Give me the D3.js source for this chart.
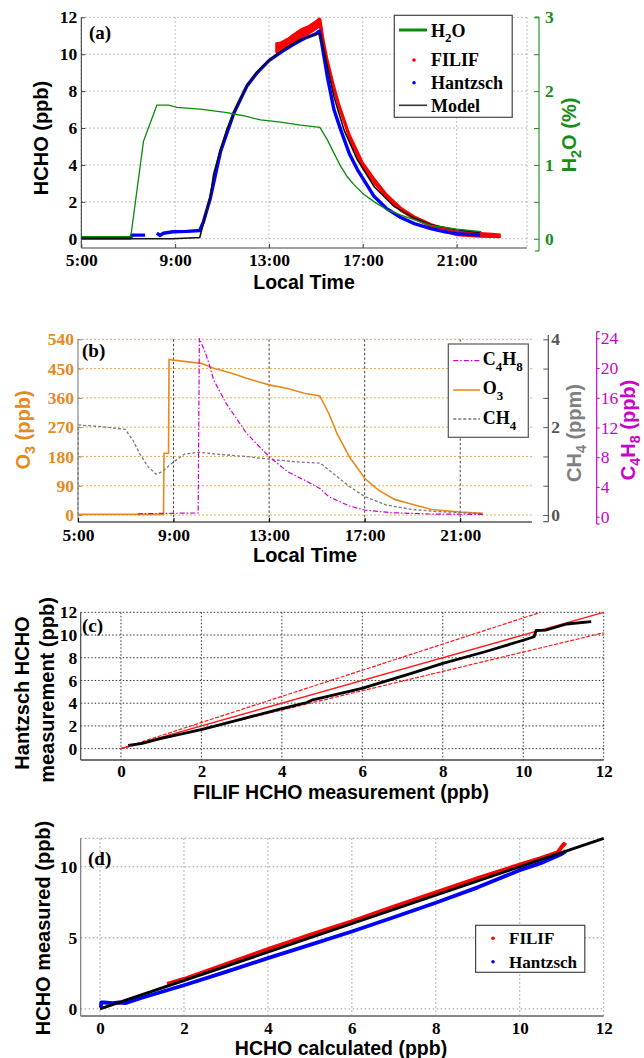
<!DOCTYPE html>
<html><head><meta charset="utf-8">
<script src="https://cdn.jsdelivr.net/npm/d3@7/dist/d3.min.js"></script>
<style>body{margin:0;background:#fff}svg{display:block}</style>
</head><body>
<svg id="c" width="644" height="1058"></svg>
<script>
// ---------------- DATA ----------------
const timeTicks = [5, 9, 13, 17, 21];
const timeTickLabels = ["5:00", "9:00", "13:00", "17:00", "21:00"];
const hchoTicks = [0, 2, 4, 6, 8, 10, 12];
const h2oTicks = [0, 0.5, 1, 1.5, 2, 2.5, 3];
const o3Ticks = [0, 90, 180, 270, 360, 450, 540];
const ch4Labels = [0, 2, 4];
const c4h8Ticks = [0, 4, 8, 12, 16, 20, 24];
const scatTicks = [0, 2, 4, 6, 8, 10, 12];
const dYTicks = [0, 5, 10];

// panel (a): HCHO time series (hour, ppb)
const h2oTime = [5.0, 7.11, 7.65, 8.22, 8.72, 9.08, 10.07, 11.21, 11.5, 12.0, 12.64, 13.5, 14.35, 15.17, 15.49, 15.77, 16.06, 16.34, 16.63, 17.05, 17.49, 18.05, 18.62, 19.19, 19.9, 21.0, 22.05];
const h2oVal  = [0.03, 0.03, 1.32, 1.81, 1.81, 1.78, 1.755, 1.71, 1.69, 1.66, 1.61, 1.58, 1.54, 1.51, 1.34, 1.16, 0.98, 0.84, 0.73, 0.60, 0.50, 0.39, 0.32, 0.26, 0.18, 0.13, 0.095];

const modelTime = [5.0, 8.9, 10.05, 10.21, 10.5, 10.64, 10.93, 11.2, 11.5, 11.78, 12.07, 12.5, 13.02, 13.5, 14.0, 14.35, 14.8, 15.15, 15.2, 15.49, 15.77, 16.2, 16.77, 17.48, 18.33, 19.19, 19.9, 21.0, 22.0];
const modelVal  = [0.0, 0.0, 0.07, 0.85, 2.3, 3.5, 4.82, 5.9, 6.85, 7.6, 8.3, 9.05, 9.69, 10.15, 10.55, 10.8, 11.0, 11.12, 11.05, 9.33, 7.7, 5.9, 4.28, 2.83, 1.75, 1.12, 0.76, 0.49, 0.34];

const hantzschTime = [5.0, 7.1, 7.15, 7.72, 7.9, 8.22, 8.35, 8.5, 8.9, 9.5, 10.05, 10.2, 10.5, 10.93, 11.5, 12.07, 12.5, 13.0, 13.5, 14.0, 14.5, 15.0, 15.15, 15.25, 15.5, 15.77, 16.06, 16.43, 16.77, 17.48, 18.0, 18.62, 19.2, 19.9, 20.5, 21.0, 22.0];
const hantzschVal  = [0.05, 0.05, 0.2, 0.2, null, 0.3, 0.18, 0.3, 0.38, 0.4, 0.45, 0.9, 2.2, 4.7, 6.8, 8.3, 9.0, 9.65, 10.1, 10.5, 10.85, 11.1, 11.25, 10.6, 8.7, 7.0, 5.9, 4.6, 3.75, 2.3, 1.65, 1.15, 0.82, 0.55, 0.38, 0.28, 0.2];

const filifTime = [13.3, 13.5, 13.8, 14.0, 14.35, 14.7, 15.0, 15.15, 15.2, 15.35, 15.5, 15.77, 16.0, 16.43, 17.0, 17.48, 18.0, 18.62, 19.2, 19.9, 20.5, 21.0, 21.5, 22.0, 22.5, 22.85];
const filifLo   = [10.1, 10.1, 10.45, 10.6, 10.9, 11.1, 11.35, 11.5, 11.3, 10.3, 9.4, 8.0, 7.0, 5.4, 3.85, 3.0, 2.25, 1.5, 1.05, 0.65, 0.38, 0.18, 0.14, 0.1, 0.08, 0.07];
const filifHi   = [10.6, 10.65, 10.85, 11.05, 11.35, 11.55, 11.8, 11.95, 11.9, 10.7, 9.75, 8.35, 7.3, 5.7, 4.15, 3.3, 2.45, 1.7, 1.22, 0.82, 0.55, 0.4, 0.36, 0.32, 0.28, 0.24];

// panel (b): O3 (ppb), CH4 (ppm), C4H8 (ppb)
const o3Time = [5.0, 8.58, 8.6, 8.79, 8.81, 9.0, 10.16, 10.68, 11.37, 12.06, 13.0, 13.78, 14.47, 15.12, 15.5, 15.84, 16.36, 17.0, 17.56, 18.25, 18.94, 19.8, 21.0, 21.95];
const o3Val  = [2, 2, 190, 190, 478, 476, 466, 451, 437, 420, 400, 389, 374, 366, 312, 251, 179, 113, 77, 48, 34, 17, 9, 5];

const ch4Time = [5.0, 5.01, 6.03, 6.98, 7.3, 7.58, 7.93, 8.27, 8.53, 9.0, 9.47, 10.08, 10.68, 12.06, 13.0, 14.12, 15.15, 15.67, 16.36, 17.0, 17.9, 18.94, 19.97, 21.95];
const ch4Val  = [0, 2.05, 2.01, 1.95, 1.7, 1.40, 1.10, 0.93, 0.99, 1.21, 1.39, 1.43, 1.39, 1.33, 1.27, 1.21, 1.18, 0.95, 0.65, 0.42, 0.23, 0.13, 0.08, 0.03];

const c4h8Time = [7.5, 10.03, 10.08, 10.34, 10.5, 10.68, 11.2, 12.06, 13.0, 13.78, 14.47, 15.12, 15.5, 16.36, 17.0, 18.08, 19.8, 21.95];
const c4h8Val  = [0.4, 0.5, 24, 22, 20.4, 18.4, 15.25, 11.2, 8.07, 6.06, 4.93, 3.81, 2.69, 1.44, 0.9, 0.54, 0.36, 0.31];

// panel (c): Hantzsch vs FILIF
const cFilif    = [0.18, 0.5, 1.0, 2.02, 3.0, 4.0, 4.62, 4.77, 5.99, 7.22, 8.0, 9.05, 10.02, 10.27, 10.32, 10.57, 11.08, 11.69];
const cHantzsch = [0.29, 0.45, 0.9, 1.7, 2.6, 3.53, 4.06, 4.3, 5.3, 6.62, 7.5, 8.53, 9.56, 9.85, 10.4, 10.44, 10.97, 11.18];
const refEndX = [12, 10.43, 12];
const refEndY = [12, 12, 10.2];

// panel (d): measured vs calculated
const dCalcF = [1.6, 2.0, 3.0, 4.0, 4.5, 5.0, 6.0, 7.0, 8.0, 9.0, 10.0, 10.5, 10.9, 11.05, 11.1];
const dMeasF = [1.75, 2.1, 3.15, 4.2, 4.7, 5.2, 6.15, 7.2, 8.2, 9.2, 10.15, 10.6, 11.0, 11.6, 11.5];
const dCalcH = [0.02, 0.03, 0.1, 0.3, 0.45, 0.6, 1.0, 2.0, 3.0, 4.0, 5.0, 6.0, 7.0, 8.0, 9.0, 10.0, 10.5, 11.0, 11.1];
const dMeasH = [0.1, 0.45, 0.45, 0.4, 0.45, 0.4, 0.78, 1.66, 2.6, 3.57, 4.5, 5.44, 6.45, 7.47, 8.55, 9.76, 10.25, 10.9, 11.1];
const oneToOneX = [0, 12];
const oneToOneY = [0, 12];

// ---------------- DRAWING ----------------
const svg = d3.select("#c");
const SERIF = "'Liberation Serif','Times New Roman',serif";
const SANS = "'Liberation Sans',Arial,sans-serif";
const zip = (a, b) => a.map((v, i) => [v, b[i]]);

function rich(sel, parts, shift) {
  let off = 0;
  parts.forEach(p => {
    const sub = Array.isArray(p);
    const s = sub ? p[0] : p;
    const t = sel.append("tspan").text(s);
    const target = sub ? shift : 0;
    if (target !== off) { t.attr("dy", target - off); off = target; }
    if (sub) t.attr("font-size", "72%");
  });
}
function title(x, y, parts, opts) {
  const t = svg.append("text")
    .attr("text-anchor", "middle")
    .attr("font-family", opts.family || SANS)
    .attr("font-weight", "bold")
    .attr("font-size", opts.size || 20)
    .attr("fill", opts.color || "#000");
  if (opts.rotate) t.attr("transform", `translate(${x},${y}) rotate(-90)`).attr("dy", "0.35em");
  else t.attr("x", x).attr("y", y);
  rich(t, parts, opts.shift || 5);
  return t;
}
function styleAxis(g, color, size, weight) {
  g.select(".domain").remove();
  g.selectAll(".tick line").attr("stroke", color);
  g.selectAll(".tick text").attr("font-family", SERIF).attr("font-weight", weight || "bold")
    .attr("font-size", size || 17).attr("fill", color);
}
function hline(y, x1, x2, stroke, w, dash) {
  svg.append("line").attr("x1", x1).attr("x2", x2).attr("y1", y).attr("y2", y)
    .attr("stroke", stroke).attr("stroke-width", w).attr("stroke-dasharray", dash || null);
}
function vline(x, y1, y2, stroke, w, dash) {
  svg.append("line").attr("x1", x).attr("x2", x).attr("y1", y1).attr("y2", y2)
    .attr("stroke", stroke).attr("stroke-width", w).attr("stroke-dasharray", dash || null);
}
function panelLabel(x, y, s) {
  svg.append("text").attr("x", x).attr("y", y).attr("font-family", SERIF).attr("font-weight", "bold")
    .attr("font-size", 19).text(s);
}

// ======== Panel (a) ========
{
  const L = 81.3, R = 527, T = 17.3, B = 248;
  const x = d3.scaleLinear().domain([5, 24]).range([L, R]);
  const y = d3.scaleLinear().domain([-0.5, 12]).range([B, T]);
  const y2 = d3.scaleLinear().domain([-0.125, 3]).range([B, T]);

  const gridDash = "1.5,2.5";
  timeTicks.concat([24]).forEach(t => vline(x(t), T, B, "#aaa", 1, gridDash));
  hchoTicks.forEach(v => hline(y(v), L, R, "#aaa", 1, gridDash));

  // series
  const area = d3.area().x(d => x(d[0])).y0(d => y(d[1])).y1(d => y(d[2]));
  svg.append("path").datum(filifTime.map((t, i) => [t, filifLo[i], filifHi[i]]))
    .attr("d", area).attr("fill", "#ff0000").attr("stroke", "#ff0000").attr("stroke-width", 1.6)
    .attr("stroke-linejoin", "round");
  const ln = d3.line().defined(d => d[1] != null).x(d => x(d[0])).y(d => y(d[1]));
  svg.append("path").datum(zip(hantzschTime, hantzschVal)).attr("d", ln)
    .attr("fill", "none").attr("stroke", "#0000ff").attr("stroke-width", 3.4).attr("stroke-linejoin", "round");
  svg.append("path").datum(zip(modelTime, modelVal)).attr("d", ln)
    .attr("fill", "none").attr("stroke", "#111").attr("stroke-width", 1.6);
  const ln2 = d3.line().x(d => x(d[0])).y(d => y2(d[1]));
  svg.append("path").datum(zip(h2oTime, h2oVal)).attr("d", ln2)
    .attr("fill", "none").attr("stroke", "#0a8a0a").attr("stroke-width", 1.3);

  // spines
  vline(L, T, B, "#333", 1);
  hline(B, L, R, "#a0a0a0", 2.2);

  const gx = svg.append("g").attr("transform", `translate(0,${B})`)
    .call(d3.axisBottom(x).tickValues(timeTicks).tickSize(-4).tickFormat((d, i) => timeTickLabels[i]));
  styleAxis(gx, "#000", 17.5);
  gx.selectAll(".tick line").attr("stroke", "#444");
  gx.selectAll(".tick text").attr("y", 18.3).attr("dy", null);

  const gy = svg.append("g").attr("transform", `translate(${L},0)`)
    .call(d3.axisLeft(y).tickValues(hchoTicks).tickSize(-4).tickPadding(4));
  styleAxis(gy, "#000", 17.5);
  gy.selectAll(".tick line").attr("stroke", "#444");

  // right H2O axis
  const AX = 539;
  vline(AX, 17, 251, "#2a9a2a", 1.2);
  hline(17, AX - 4, AX, "#2a9a2a", 1.2);
  hline(251, AX - 4, AX, "#2a9a2a", 1.2);
  const gr = svg.append("g").attr("transform", `translate(${AX},0)`)
    .call(d3.axisRight(y2).tickValues(h2oTicks).tickSize(-5).tickPadding(6)
      .tickFormat(d => Number.isInteger(d) ? d : ""));
  styleAxis(gr, "#1a8c1a", 17.5);

  // titles
  title(41, 138, ["HCHO (ppb)"], { rotate: true });
  title(569, 135, ["H", ["2"], "O (%)"], { rotate: true, color: "#1a8c1a" });
  title(304, 288.5, ["Local Time"], { size: 19.5 });
  panelLabel(89, 39, "(a)");

  // legend
  svg.append("rect").attr("x", 394.3).attr("y", 15.3).attr("width", 117.9).attr("height", 102)
    .attr("fill", "#fff").attr("stroke", "#444").attr("stroke-width", 1.2);
  hline(30, 399, 427, "#0a8a0a", 3);
  svg.append("circle").attr("cx", 414).attr("cy", 60).attr("r", 1.8).attr("fill", "#ff0000");
  svg.append("circle").attr("cx", 414).attr("cy", 82.7).attr("r", 1.8).attr("fill", "#0000ff");
  hline(105.3, 399, 427, "#333", 1.6);
  const legA = [[36.5, ["H", ["2"], "O"]], [66, ["FILIF"]], [89, ["Hantzsch"]], [111.5, ["Model"]]];
  legA.forEach(([yy, parts]) => {
    const t = svg.append("text").attr("x", 431).attr("y", yy).attr("font-family", SERIF)
      .attr("font-weight", "bold").attr("font-size", 18);
    rich(t, parts, 5);
  });
}

// ======== Panel (b) ========
{
  const L = 78, R = 531.9, T = 339.3, B = 522;
  const x = d3.scaleLinear().domain([5, 24]).range([L, R]);
  const y = d3.scaleLinear().domain([-21.5, 540]).range([B, T]);
  const yCh4 = d3.scaleLinear().domain([-21.5 * 4 / 540, 4]).range([B, T]);
  const yC4 = d3.scaleLinear().domain([0, 24]).range([516.7, 338.3]);
  const ORANGE = "#e8891c", GRAY = "#7a7a7a", MAG = "#cc00cc";

  o3Ticks.forEach(v => hline(y(v), L, R, "#f2a64a", 1, "2,2"));
  timeTicks.slice(1).forEach(t => vline(x(t), T, B, "#444", 1, "2.5,2"));

  const lnO3 = d3.line().x(d => x(d[0])).y(d => y(d[1]));
  const lnCh4 = d3.line().x(d => x(d[0])).y(d => yCh4(d[1]));
  const lnC4 = d3.line().x(d => x(d[0])).y(d => yC4(d[1]));
  svg.append("path").datum(zip(o3Time, o3Val)).attr("d", lnO3).attr("fill", "none")
    .attr("stroke", ORANGE).attr("stroke-width", 1.6);
  svg.append("path").datum(zip(ch4Time, ch4Val)).attr("d", lnCh4).attr("fill", "none")
    .attr("stroke", GRAY).attr("stroke-width", 1.3).attr("stroke-dasharray", "3,2");
  svg.append("path").datum(zip(c4h8Time, c4h8Val)).attr("d", lnC4).attr("fill", "none")
    .attr("stroke", MAG).attr("stroke-width", 1.2).attr("stroke-dasharray", "5,2,1.5,2");

  vline(L, T, B, "#888", 1.2);
  hline(B, L, R, "#555", 1.5);

  const gx = svg.append("g").attr("transform", `translate(0,${B})`)
    .call(d3.axisBottom(x).tickValues(timeTicks).tickSize(-4).tickFormat((d, i) => timeTickLabels[i]));
  styleAxis(gx, "#000", 17.5);
  gx.selectAll(".tick text").attr("y", 18.5).attr("dy", null);

  const gy = svg.append("g").attr("transform", `translate(${L},0)`)
    .call(d3.axisLeft(y).tickValues(o3Ticks).tickSize(-4).tickPadding(4));
  styleAxis(gy, ORANGE, 17.5);
  gy.selectAll(".tick line").attr("stroke", "#888");

  // CH4 axis
  const AX1 = 548.3;
  vline(AX1, 335, 521.7, "#555", 1.2);
  hline(521.7, AX1 - 5, AX1, "#555", 1.2);
  const g1 = svg.append("g").attr("transform", `translate(${AX1},0)`)
    .call(d3.axisRight(yCh4).tickValues(o3Ticks.map(v => v * 4 / 540)).tickSize(-5).tickPadding(3)
      .tickFormat(d => { const r = Math.round(d * 1000) / 1000; return ch4Labels.includes(r) ? r : ""; }));
  styleAxis(g1, "#555", 17.5);

  // C4H8 axis
  const AX2 = 596.7;
  vline(AX2, 331.7, 524, MAG, 1.2);
  hline(331.7, AX2, AX2 + 3, MAG, 1.2);
  hline(524, AX2, AX2 + 3, MAG, 1.2);
  const g2 = svg.append("g").attr("transform", `translate(${AX2},0)`)
    .call(d3.axisRight(yC4).tickValues(c4h8Ticks).tickSize(3).tickPadding(1));
  styleAxis(g2, MAG, 17.5, "normal");

  title(23, 430, ["O", ["3"], " (ppb)"], { rotate: true, color: ORANGE });
  title(573.5, 433, ["CH", ["4"], " (ppm)"], { rotate: true, color: "#808080" });
  title(628, 430, ["C", ["4"], "H", ["8"], " (ppb)"], { rotate: true, color: MAG });
  title(305, 561.5, ["Local Time"], {});
  panelLabel(82, 357, "(b)");

  svg.append("rect").attr("x", 448.3).attr("y", 344).attr("width", 80).attr("height", 93.3)
    .attr("fill", "#fff").attr("stroke", "#555").attr("stroke-width", 1.2);
  hline(360.7, 453.3, 480, MAG, 1.2, "5,2,1.5,2");
  hline(390, 453.3, 480, ORANGE, 1.6);
  hline(419, 453.3, 480, GRAY, 1.3, "3,2");
  [[365, ["C", ["4"], "H", ["8"]]], [394, ["O", ["3"]]], [424, ["CH", ["4"]]]].forEach(([yy, parts]) => {
    const t = svg.append("text").attr("x", 482.7).attr("y", yy).attr("font-family", SERIF)
      .attr("font-weight", "bold").attr("font-size", 18);
    rich(t, parts, 6);
  });
}

// ======== Panel (c) ========
{
  const L = 80.7, R = 603.7, T = 612.3, B = 760;
  const x = d3.scaleLinear().domain([-1, 12]).range([L, R]);
  const y = d3.scaleLinear().domain([-1, 12]).range([B, T]);
  scatTicks.forEach(v => vline(x(v), T, B, "#333", 1, "1.5,2"));
  scatTicks.forEach(v => hline(y(v), L, R, "#333", 1, "1.5,2"));

  refEndX.forEach((ex, i) => {
    svg.append("line").attr("x1", x(0)).attr("y1", y(0)).attr("x2", x(ex)).attr("y2", y(refEndY[i]))
      .attr("stroke", "#ff1a1a").attr("stroke-width", i === 0 ? 1.4 : 1.2)
      .attr("stroke-dasharray", i === 0 ? null : "4,1.5");
  });
  const ln = d3.line().x(d => x(d[0])).y(d => y(d[1]));
  svg.append("path").datum(zip(cFilif, cHantzsch)).attr("d", ln).attr("fill", "none")
    .attr("stroke", "#000").attr("stroke-width", 2.8).attr("stroke-linejoin", "round");

  vline(L, T, B, "#444", 1.2);
  hline(B, L, R, "#444", 1.5);

  const gx = svg.append("g").attr("transform", `translate(0,${B})`)
    .call(d3.axisBottom(x).tickValues(scatTicks).tickSize(0));
  styleAxis(gx, "#000", 17);
  gx.selectAll(".tick text").attr("y", 16.8).attr("dy", null);
  const gy = svg.append("g").attr("transform", `translate(${L},0)`)
    .call(d3.axisLeft(y).tickValues(scatTicks).tickSize(0).tickPadding(3.5));
  styleAxis(gy, "#000", 17.5);

  title(21.7, 693, ["Hantzsch HCHO"], { rotate: true });
  title(46.7, 690, ["measurement (ppb)"], { rotate: true });
  title(341, 799, ["FILIF HCHO measurement (ppb)"], { size: 19.5 });
  panelLabel(82, 632, "(c)");
}

// ======== Panel (d) ========
{
  const L = 80.7, R = 603.7, T = 838.3, B = 1016;
  const x = d3.scaleLinear().domain([-0.46, 12]).range([L, R]);
  const y = d3.scaleLinear().domain([-0.5, 12]).range([B, T]);
  scatTicks.forEach(v => vline(x(v), T, B, "#999", 1, "1.5,2.5"));
  dYTicks.concat([12]).forEach(v => hline(y(v), L, R, "#999", 1, "1.5,2.5"));

  const ln = d3.line().x(d => x(d[0])).y(d => y(d[1]));
  svg.append("path").datum(zip(dCalcF, dMeasF)).attr("d", ln).attr("fill", "none")
    .attr("stroke", "#ff0000").attr("stroke-width", 4).attr("stroke-linejoin", "round");
  svg.append("path").datum(zip(dCalcH, dMeasH)).attr("d", ln).attr("fill", "none")
    .attr("stroke", "#0000ff").attr("stroke-width", 3.8).attr("stroke-linejoin", "round");
  svg.append("path").datum(zip(oneToOneX, oneToOneY)).attr("d", ln).attr("fill", "none")
    .attr("stroke", "#000").attr("stroke-width", 3);

  vline(L, T, B, "#777", 1.2);
  hline(B, L, R, "#888", 1.8);

  const gx = svg.append("g").attr("transform", `translate(0,${B})`)
    .call(d3.axisBottom(x).tickValues(scatTicks).tickSize(0));
  styleAxis(gx, "#000", 17);
  gx.selectAll(".tick text").attr("y", 17.5).attr("dy", null);
  const gy = svg.append("g").attr("transform", `translate(${L},0)`)
    .call(d3.axisLeft(y).tickValues(dYTicks).tickSize(0).tickPadding(3.5));
  styleAxis(gy, "#000", 17.5);

  title(43.3, 928, ["HCHO measured (ppb)"], { rotate: true });
  title(341, 1055, ["HCHO calculated (ppb)"], { size: 19.5 });
  panelLabel(88, 865, "(d)");

  svg.append("rect").attr("x", 475.6).attr("y", 925.3).attr("width", 109.2).attr("height", 47)
    .attr("fill", "#fff").attr("stroke", "#444").attr("stroke-width", 1.2);
  svg.append("circle").attr("cx", 493).attr("cy", 938.3).attr("r", 1.8).attr("fill", "#ff0000");
  svg.append("circle").attr("cx", 493).attr("cy", 961.7).attr("r", 1.8).attr("fill", "#0000ff");
  [[944, "FILIF"], [967.5, "Hantzsch"]].forEach(([yy, s]) => {
    svg.append("text").attr("x", 509).attr("y", yy).attr("font-family", SERIF)
      .attr("font-weight", "bold").attr("font-size", 17).text(s);
  });
}
</script>
</body></html>
